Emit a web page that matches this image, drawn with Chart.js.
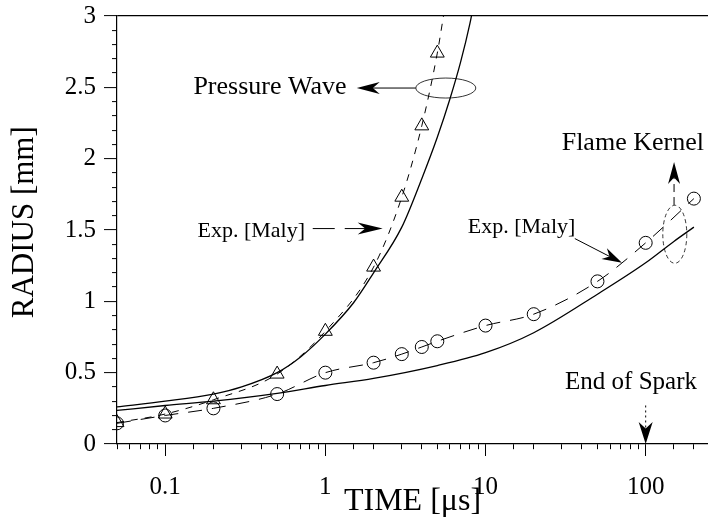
<!DOCTYPE html>
<html>
<head>
<meta charset="utf-8">
<script src="https://cdn.jsdelivr.net/npm/chart.js@4.4.1/dist/chart.umd.min.js"></script>
<style>
  html, body { margin: 0; padding: 0; background: #fff; }
  #chart { display: block; }
</style>
</head>
<body>
<canvas id="chart" width="708" height="526"></canvas>
<script>
// Pressure wave, model (solid)
const pwModelTime = [0.05, 0.1, 0.2, 0.3, 0.5, 0.7, 1, 1.5, 2, 3, 4, 5, 6, 7, 8, 8.5];
const pwModelRadius = [0.26, 0.30, 0.35, 0.40, 0.50, 0.61, 0.77, 0.99, 1.20, 1.52, 1.86, 2.15, 2.42, 2.68, 2.95, 3.1];

// Pressure wave, experiment [Maly] (triangles, dashed)
const pwExpTime = [0.05, 0.1, 0.2, 0.5, 1, 2, 3, 4, 5];
const pwExpRadius = [0.15, 0.21, 0.31, 0.49, 0.79, 1.24, 1.73, 2.23, 2.74];
const pwExpTailTime = [5.5];
const pwExpTailRadius = [3.02];

// Flame kernel, model (solid)
const fkModelTime = [0.05, 0.1, 0.2, 0.5, 1, 2, 5, 10, 20, 50, 100, 150, 200];
const fkModelRadius = [0.235, 0.27, 0.30, 0.355, 0.41, 0.46, 0.55, 0.64, 0.78, 1.05, 1.27, 1.42, 1.52];

// Flame kernel, experiment [Maly] (circles, dashed)
const fkExpTime = [0.05, 0.1, 0.2, 0.5, 1, 2, 3, 4, 5, 10, 20, 50, 100, 200];
const fkExpRadius = [0.145, 0.20, 0.25, 0.35, 0.50, 0.57, 0.63, 0.68, 0.72, 0.83, 0.91, 1.14, 1.41, 1.72];

const yTickLabels = ['0', '0.5', '1', '1.5', '2', '2.5', '3'];

const SERIF = '"Liberation Serif", "Times New Roman", serif';

function pts(xs, ys) {
  return xs.map((t, i) => ({ x: t, y: ys[i] }));
}

function isPow10(v) {
  const l = Math.log10(v);
  return Math.abs(l - Math.round(l)) < 1e-9;
}

function isHalf(v) {
  return Math.abs(v * 2 - Math.round(v * 2)) < 1e-6;
}

function arrowHead(ctx, x1, y1, x2, y2, len, w) {
  const a = Math.atan2(y2 - y1, x2 - x1);
  ctx.save();
  ctx.translate(x2, y2);
  ctx.rotate(a);
  ctx.setLineDash([]);
  ctx.beginPath();
  ctx.moveTo(0, 0);
  ctx.lineTo(-len, -w);
  ctx.lineTo(-len * 0.7, 0);
  ctx.lineTo(-len, w);
  ctx.closePath();
  ctx.fill();
  ctx.restore();
}

function arrow(ctx, x1, y1, x2, y2, dash, len, w) {
  const a = Math.atan2(y2 - y1, x2 - x1);
  ctx.save();
  ctx.setLineDash(dash);
  ctx.beginPath();
  ctx.moveTo(x1, y1);
  ctx.lineTo(x2 - Math.cos(a) * len * 0.7, y2 - Math.sin(a) * len * 0.7);
  ctx.stroke();
  ctx.restore();
  arrowHead(ctx, x1, y1, x2, y2, len, w);
}

const annotate = {
  id: 'annotate',
  afterDatasetsDraw(chart) {
    const { ctx, scales: { x, y } } = chart;
    const X = t => x.getPixelForValue(t);
    const Y = r => y.getPixelForValue(r);
    ctx.save();
    ctx.fillStyle = '#000';
    ctx.strokeStyle = '#000';
    ctx.lineWidth = 1;
    ctx.textBaseline = 'middle';

    // Pressure Wave
    ctx.font = '26px ' + SERIF;
    ctx.textAlign = 'left';
    ctx.fillText('Pressure Wave', X(0.15), Y(2.5));
    arrow(ctx, X(3.67), Y(2.495), X(1.57), Y(2.495), [], 23, 6);
    ctx.save();
    ctx.lineWidth = 0.8;
    ctx.beginPath();
    ctx.ellipse(X(5.65), Y(2.495), 30, 10, 0, 0, Math.PI * 2);
    ctx.stroke();
    ctx.restore();

    // Exp. [Maly] for pressure wave
    ctx.font = '22px ' + SERIF;
    ctx.fillText('Exp. [Maly]', X(0.159), Y(1.49));
    arrow(ctx, X(0.834), Y(1.51), X(2.28), Y(1.51), [22, 10], 25, 6);

    // Exp. [Maly] for flame kernel
    ctx.fillText('Exp. [Maly]', X(7.75), Y(1.52));
    arrow(ctx, X(36.1), Y(1.44), X(71.1), Y(1.27), [], 20, 6);

    // Flame Kernel
    ctx.save();
    ctx.lineWidth = 0.8;
    ctx.setLineDash([4, 3]);
    ctx.beginPath();
    ctx.ellipse(X(152), Y(1.47), 12, 29, 0, 0, Math.PI * 2);
    ctx.stroke();
    ctx.restore();
    arrow(ctx, X(150.4), Y(1.675), X(150.4), Y(1.976), [8, 5], 22, 6);
    ctx.font = '26px ' + SERIF;
    ctx.textAlign = 'right';
    ctx.fillText('Flame Kernel', X(231), Y(2.11));

    // End of Spark
    ctx.font = '25px ' + SERIF;
    ctx.textAlign = 'center';
    ctx.fillText('End of Spark', X(81), Y(0.43));
    arrow(ctx, X(100), Y(0.27), X(100), Y(0), [2, 3], 22, 7);

    ctx.restore();
  }
};

const marker = {
  borderColor: '#000',
  backgroundColor: 'rgba(0,0,0,0)',
  borderWidth: 1,
  showLine: false
};

new Chart(document.getElementById('chart'), {
  type: 'scatter',
  data: {
    datasets: [
      {
        label: 'Pressure wave model',
        data: pts(pwModelTime, pwModelRadius),
        showLine: true,
        borderColor: '#000',
        borderWidth: 1.3,
        pointRadius: 0,
        cubicInterpolationMode: 'monotone'
      },
      {
        label: 'Pressure wave exp line',
        data: pts(pwExpTime.concat(pwExpTailTime), pwExpRadius.concat(pwExpTailRadius)),
        showLine: true,
        borderColor: '#000',
        borderWidth: 1,
        borderDash: [7, 7],
        pointRadius: 0,
        cubicInterpolationMode: 'monotone'
      },
      Object.assign({
        label: 'Pressure wave exp',
        data: pts(pwExpTime, pwExpRadius),
        pointStyle: 'triangle',
        pointRadius: 8
      }, marker),
      {
        label: 'Flame kernel model',
        data: pts(fkModelTime, fkModelRadius),
        showLine: true,
        borderColor: '#000',
        borderWidth: 1.3,
        pointRadius: 0,
        cubicInterpolationMode: 'monotone'
      },
      {
        label: 'Flame kernel exp',
        data: pts(fkExpTime, fkExpRadius),
        showLine: true,
        borderColor: '#000',
        backgroundColor: 'rgba(0,0,0,0)',
        borderWidth: 1,
        borderDash: [14, 10],
        pointStyle: 'circle',
        pointRadius: 6.5,
        pointBorderWidth: 1,
        cubicInterpolationMode: 'monotone'
      }
    ]
  },
  options: {
    responsive: false,
    animation: false,
    layout: { autoPadding: false, padding: { top: 16, right: 0, bottom: 0, left: 0 } },
    plugins: {
      legend: { display: false },
      tooltip: { enabled: false }
    },
    scales: {
      x: {
        type: 'logarithmic',
        position: 'bottom',
        min: 0.05,
        max: 245,
        afterFit: s => { s.height = 82; s.paddingLeft = 0; s.paddingRight = 0; },
        border: { display: true, color: '#000', width: 1.2 },
        grid: {
          drawOnChartArea: false,
          tickLength: 12,
          tickColor: '#000',
          tickWidth: 1,
          tickBorderDash: c => (c.tick && isPow10(c.tick.value)) ? [] : [5, 60]
        },
        ticks: {
          autoSkip: false,
          maxRotation: 0,
          padding: 16,
          color: '#000',
          font: { family: SERIF, size: 25 },
          callback: v => isPow10(v) ? String(v) : ''
        },
        title: {
          display: true,
          text: 'TIME [μs]',
          color: '#000',
          font: { family: SERIF, size: 32 },
          padding: { top: 0, bottom: 5 }
        }
      },
      y: {
        type: 'linear',
        min: 0,
        max: 3,
        afterFit: s => { s.width = 117; s.paddingTop = 0; s.paddingBottom = 0; },
        border: { display: true, color: '#000', width: 1.2 },
        grid: {
          drawOnChartArea: true,
          color: c => (c.tick && Math.abs(c.tick.value - 3) < 1e-6) ? '#000' : 'rgba(0,0,0,0)',
          lineWidth: 1.2,
          tickLength: 13,
          tickColor: '#000',
          tickWidth: 1,
          tickBorderDash: c => (c.tick && isHalf(c.tick.value)) ? [] : [0, 8, 5, 60]
        },
        ticks: {
          autoSkip: false,
          stepSize: 0.1,
          maxTicksLimit: 100,
          padding: 8,
          color: '#000',
          font: { family: SERIF, size: 25 },
          callback: v => isHalf(v) ? yTickLabels[Math.round(v * 2)] : ''
        },
        title: {
          display: true,
          text: '  RADIUS [mm]',
          color: '#000',
          font: { family: SERIF, size: 31 },
          padding: { top: 6, bottom: 0 }
        }
      }
    }
  },
  plugins: [annotate]
});
</script>
</body>
</html>
